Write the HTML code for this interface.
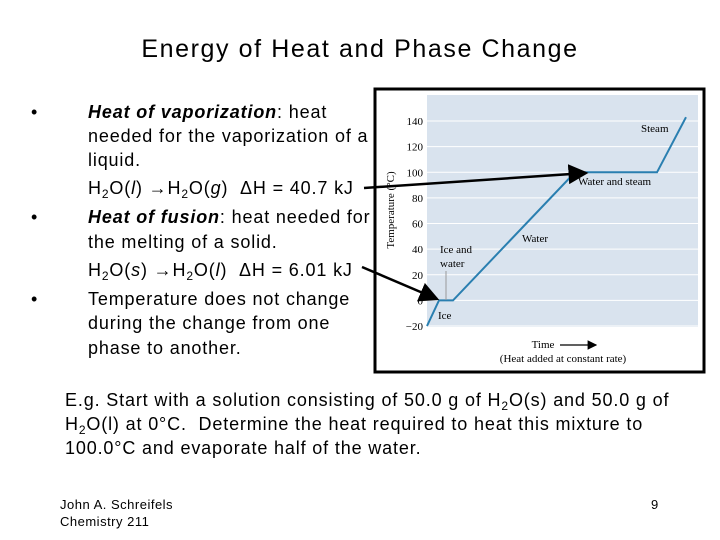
<!DOCTYPE html>
<html><head><meta charset="utf-8"><style>
body{margin:0;background:#fff}
#page{position:relative;width:720px;height:540px;overflow:hidden;font-family:"Liberation Sans",sans-serif;color:#000}
.t{position:absolute;white-space:nowrap;font-size:18px;line-height:20px;letter-spacing:0.85px}
sub{font-size:12px;vertical-align:-4px;line-height:0}
</style></head><body>
<div id="page">
<div class="t" style="left:0;width:720px;text-align:center;top:35px;font-size:25px;line-height:28px;letter-spacing:1.6px">Energy of Heat and Phase Change</div>
<div>
<div class="t" style="left:31px;top:102px">•</div>
<div class="t" style="left:88px;top:102px"><b><i>Heat of vaporization</i></b>: heat</div>
<div class="t" style="left:88px;top:126px">needed for the vaporization of a</div>
<div class="t" style="left:88px;top:150px">liquid.</div>
<div class="t" style="left:88px;top:178px">H<sub>2</sub>O(<i>l</i>) →H<sub>2</sub>O(<i>g</i>) &nbsp;ΔH = 40.7 kJ</div>
<div class="t" style="left:31px;top:207px">•</div>
<div class="t" style="left:88px;top:207px"><b><i>Heat of fusion</i></b>: heat needed for</div>
<div class="t" style="left:88px;top:232px">the melting of a solid.</div>
<div class="t" style="left:88px;top:260px">H<sub>2</sub>O(<i>s</i>) →H<sub>2</sub>O(<i>l</i>) &nbsp;ΔH = 6.01 kJ</div>
<div class="t" style="left:31px;top:289px">•</div>
<div class="t" style="left:88px;top:289px">Temperature does not change</div>
<div class="t" style="left:88px;top:313px">during the change from one</div>
<div class="t" style="left:88px;top:338px">phase to another.</div>
</div>
<div>
<div class="t" style="left:65px;top:390px">E.g. Start with a solution consisting of 50.0 g of H<sub>2</sub>O(s) and 50.0 g of</div>
<div class="t" style="left:65px;top:414px">H<sub>2</sub>O(l) at 0°C. &nbsp;Determine the heat required to heat this mixture to</div>
<div class="t" style="left:65px;top:438px">100.0°C and evaporate half of the water.</div>
</div>
<div class="t" style="left:60px;top:496px;font-size:13px;line-height:17px;letter-spacing:0.5px">John A. Schreifels<br>Chemistry 211</div>
<div class="t" style="left:651px;top:496px;font-size:13px;line-height:17px">9</div>
<svg id="chart" width="720" height="540" style="position:absolute;left:0;top:0" font-family="Liberation Serif, serif">
<defs><marker id="ah" markerWidth="8" markerHeight="8" refX="7" refY="4" orient="auto"><path d="M0,0 L8,4 L0,8 z" fill="#000"/></marker></defs>
<rect x="375" y="89" width="329" height="283" fill="#fff" stroke="#000" stroke-width="3"/>
<rect x="427" y="95" width="271" height="232" fill="#d9e3ee"/>
<g id="grid"></g><g id="yt"></g>
<polyline id="curve" fill="none" stroke="#2a7fb0" stroke-width="2"/>
<text transform="translate(394,210) rotate(-90)" text-anchor="middle" font-size="11">Temperature (°C)</text>
<text x="543" y="348" text-anchor="middle" font-size="11">Time</text>
<line x1="560" y1="345" x2="596" y2="345" stroke="#000" stroke-width="1.2" marker-end="url(#ah)"/>
<text x="563" y="362" text-anchor="middle" font-size="11">(Heat added at constant rate)</text>
<g font-size="11">
<text x="641" y="132">Steam</text>
<text x="578" y="185">Water and steam</text>
<text x="522" y="242">Water</text>
<text x="440" y="253">Ice and</text><text x="440" y="267">water</text>
<line x1="446" y1="271" x2="446" y2="300" stroke="#999"/>
<text x="438" y="319">Ice</text>
</g>
<line x1="364" y1="188" x2="586" y2="173" stroke="#000" stroke-width="2.5" marker-end="url(#ah)"/>
<line x1="362" y1="267" x2="437" y2="299" stroke="#000" stroke-width="2.5" marker-end="url(#ah)"/>
</svg>
</div>
<script>
const times=[0,12,26,148,230,259];
const temps=[-20,0,0,100,100,143];
const yTicks=[-20,0,20,40,60,80,100,120,140];
const tickLabels=["\u221220","0","20","40","60","80","100","120","140"];
const X=t=>427+t*1.0;
const Y=v=>326-(v+20)*1.281;
const NS="http://www.w3.org/2000/svg";
const grid=document.getElementById('grid'),yt=document.getElementById('yt');
yTicks.forEach((v,i)=>{
  const l=document.createElementNS(NS,'line');
  
  
  l.setAttribute('x1',427);l.setAttribute('x2',698);l.setAttribute('y1',Y(v));l.setAttribute('y2',Y(v));
  l.setAttribute('stroke','#fff');l.setAttribute('stroke-width','1');grid.appendChild(l);
  const t=document.createElementNS(NS,'text');
  
  
  t.setAttribute('x',423);t.setAttribute('y',Y(v)+4);t.setAttribute('text-anchor','end');t.setAttribute('font-size','11');
  t.textContent=tickLabels[i];yt.appendChild(t);
});
document.getElementById('curve').setAttribute('points',times.map((t,i)=>X(t)+','+Y(temps[i])).join(' '));
</script>
</body></html>
